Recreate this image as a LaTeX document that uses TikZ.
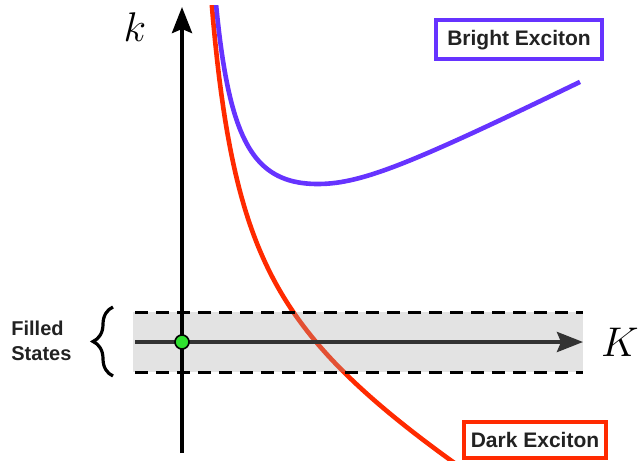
\documentclass[tikz,border=0pt]{standalone}
\definecolor{ExcitonPurple}{HTML}{6633FF}
\definecolor{ExcitonRed}{HTML}{FF2A00}
\definecolor{DotGreen}{HTML}{2EE02E}
\definecolor{LabelGray}{HTML}{222222}
\usepackage{fontspec}
\setsansfont{Liberation Sans}
\usepackage{tikz}
\usetikzlibrary{arrows.meta,decorations.pathreplacing}

\begin{document}
\begin{tikzpicture}[x=0.5pt,y=-0.5pt,
    curve/.style={line width=2.3pt},
    axis/.style={line width=2pt,-{Stealth[length=13pt,width=10pt,inset=2pt]}},
    tag/.style={draw,line width=2pt,fill=white,text=LabelGray,inner sep=0pt,
        font=\sffamily\bfseries\fontsize{10.5}{12}\selectfont}]
    \useasboundingbox (0,0) rectangle (640,460);

    \begin{scope}
        \clip (0,6) rectangle (640,460);
        % Dark exciton branch
        \draw[curve,ExcitonRed] plot[domain=211:455,samples=120] (\x,{247.8-11531/(\x-180)+0.566*\x});
        % Bright exciton branch
        \draw[curve,ExcitonPurple] plot[domain=215:318,samples=80] (\x,{384.7-7373/(\x-190)-0.45*\x})
            -- plot[domain=318:580,samples=60] (\x,{184-33*(sqrt(((\x-318)/66)^2+1)-1)});
    \end{scope}

    % K axis
    \coordinate (kleft) at (135,342);
    \coordinate (kright) at (583,342);
    \draw[axis] (kleft) -- (kright);

    % Filled states band
    \fill[black!35,fill opacity=0.31] (133,312) rectangle (583,372);
    \draw[line width=1.5pt,dash pattern=on 6.5pt off 4pt] (135,312) -- (583,312);
    \draw[line width=1.5pt,dash pattern=on 6.5pt off 4pt] (135,372) -- (583,372);

    % k axis
    \coordinate (kbottom) at (182,453);
    \coordinate (ktop) at (182,7);
    \draw[axis] (kbottom) -- (ktop);

    % Green point at the origin
    \node[circle,draw,line width=0.8pt,fill=DotGreen,minimum size=7pt,inner sep=0pt] (origin) at (182,342) {};

    % Brace and label
    \draw[line width=1.6pt,decorate,decoration={brace,amplitude=10pt}] (113,376) -- (113,307);
    \node[anchor=west,align=left,inner sep=0pt,text=LabelGray,font=\sffamily\bfseries\fontsize{10}{12.5}\selectfont] (filled) at (11,341) {Filled\\States};

    % Axis names
    \node[font=\fontsize{20}{24}\selectfont] (kname) at (135,27) {$k$};
    \node[font=\fontsize{20}{24}\selectfont] (Kname) at (620,342) {$K$};

    % Curve tags
    \node[tag,draw=ExcitonPurple,minimum width=83pt,minimum height=19.5pt] (bright) at (519,40) {Bright Exciton};
    \node[tag,draw=ExcitonRed,minimum width=71pt,minimum height=18pt] (dark) at (535,440) {Dark Exciton};
\end{tikzpicture}
\end{document}
